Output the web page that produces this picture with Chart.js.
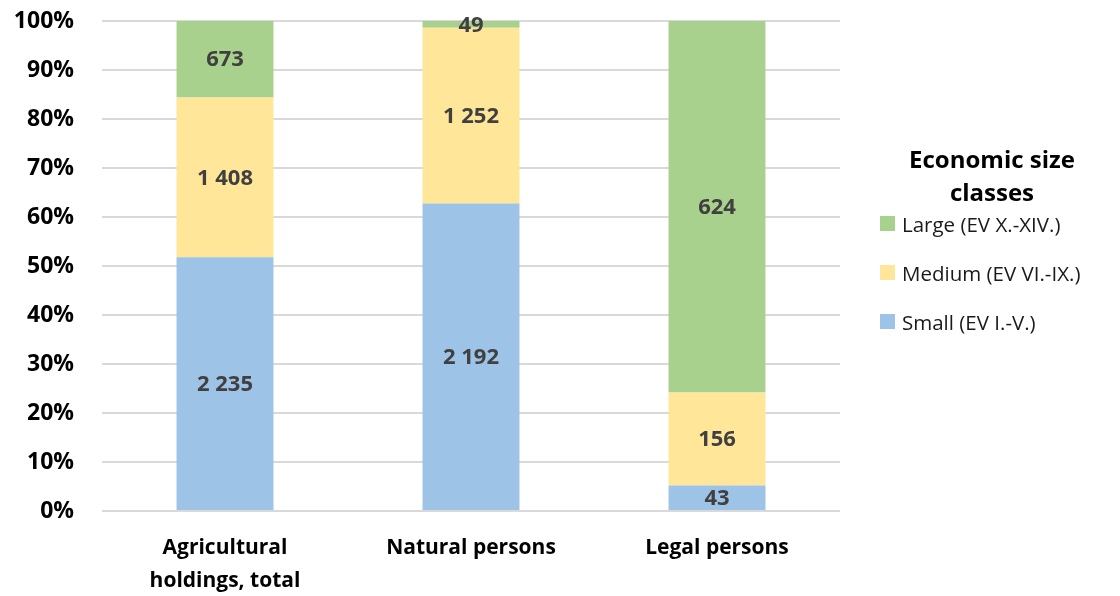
<!DOCTYPE html>
<html>
<head>
<meta charset="utf-8">
<script src="https://cdn.jsdelivr.net/npm/chart.js@4/dist/chart.umd.min.js"></script>
<style>
	html, body { margin: 0; padding: 0; background: #fff; }
	#wrap { position: relative; width: 1120px; height: 596px; font-family: 'Open Sans', sans-serif; }
	#legend { position: absolute; left: 862px; top: 142px; width: 258px; color: #000; }
	#legend .title { font-weight: bold; font-size: 24px; line-height: 33px; text-align: center; width: 260px; }
	#legend .item { display: flex; align-items: center; font-size: 20.5px; height: 49px; color: #1a1a1a; }
	#legend .box { width: 15px; height: 15px; margin: 0 7px 0 18px; }
</style>
</head>
<body>
<div id="wrap">
	<canvas id="chart" width="1120" height="596"></canvas>
	<div id="legend"></div>
</div>
<script>
const categories = [['Agricultural', 'holdings, total'], 'Natural persons', 'Legal persons'];
const smallCounts = [2235, 2192, 43];
const mediumCounts = [1408, 1252, 156];
const largeCounts = [673, 49, 624];
const yTicks = [0, 10, 20, 30, 40, 50, 60, 70, 80, 90, 100];

const seriesNames = ['Small (EV I.-V.)', 'Medium (EV VI.-IX.)', 'Large (EV X.-XIV.)'];
const seriesColors = ['#9dc3e6', '#ffe699', '#a9d18e'];
const legendTitle = ['Economic size', 'classes'];

(function () {
	const totals = smallCounts.map((v, i) => v + mediumCounts[i] + largeCounts[i]);
	const pct = arr => arr.map((v, i) => v / totals[i] * 100);
	const fmt = n => String(n).replace(/\B(?=(\d{3})+(?!\d))/g, ' ');
	const counts = [smallCounts, mediumCounts, largeCounts];
	const font = '"Open Sans", sans-serif';

	// count labels in the middle of each segment
	const labelPlugin = {
		id: 'segLabels',
		afterDatasetsDraw(chart) {
			const ctx = chart.ctx;
			ctx.save();
			ctx.font = 'bold 22px ' + font;
			ctx.fillStyle = '#404040';
			ctx.textAlign = 'center';
			ctx.textBaseline = 'middle';
			chart.data.datasets.forEach((ds, di) => {
				chart.getDatasetMeta(di).data.forEach((bar, i) => {
					const y = (bar.y + bar.base) / 2;
					ctx.fillText(fmt(counts[di][i]), bar.x, y + 1);
				});
			});
			ctx.restore();
		}
	};

	const chart = new Chart(document.getElementById('chart'), {
		type: 'bar',
		data: {
			labels: categories,
			datasets: [
				{ label: seriesNames[0], data: pct(smallCounts), backgroundColor: seriesColors[0] },
				{ label: seriesNames[1], data: pct(mediumCounts), backgroundColor: seriesColors[1] },
				{ label: seriesNames[2], data: pct(largeCounts), backgroundColor: seriesColors[2] }
			]
		},
		options: {
			responsive: false,
			animation: false,
			layout: { padding: { top: 21, right: 280, left: 0, bottom: 0 } },
			categoryPercentage: 1,
			barPercentage: 0.394,
			plugins: { legend: { display: false }, tooltip: { enabled: false } },
			scales: {
				x: {
					stacked: true,
					grid: { display: false },
					border: { display: false },
					ticks: { color: '#000', font: { family: font, size: 21, weight: 'bold', lineHeight: 1.55 }, padding: 13, maxRotation: 0 },
					afterFit: s => { s.height = 85; }
				},
				y: {
					stacked: true,
					min: 0, max: 100,
					afterBuildTicks: s => { s.ticks = yTicks.map(v => ({ value: v })); },
					grid: { color: '#d9d9d9', lineWidth: 2, drawTicks: false },
					border: { display: false },
					ticks: { color: '#000', font: { family: font, size: 23, weight: 'bold' }, padding: 28, callback: v => v + '%' },
					afterFit: s => { s.width = 102; s.paddingTop = 12; s.paddingBottom = 12; }
				}
			}
		},
		plugins: [labelPlugin]
	});

	const lg = document.getElementById('legend');
	let html = '<div class="title">' + legendTitle.join('<br>') + '</div><div style="height:0; margin-top:-9px"></div>';
	chart.data.datasets.slice().reverse().forEach(ds => {
		html += '<div class="item"><span class="box" style="background:' + ds.backgroundColor + '"></span>' + ds.label + '</div>';
	});
	lg.innerHTML = html;
})();
</script>
</body>
</html>
